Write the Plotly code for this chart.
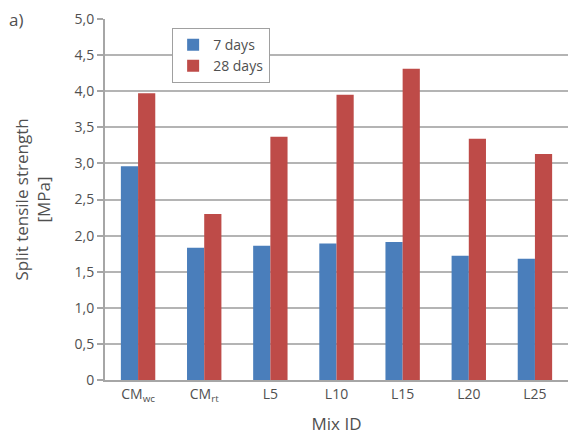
import plotly.graph_objects as go

categories = ["CM<sub>wc</sub>", "CM<sub>rt</sub>", "L5", "L10", "L15", "L20", "L25"]
days7 = [2.96, 1.83, 1.86, 1.89, 1.91, 1.72, 1.68]
days28 = [3.97, 2.30, 3.37, 3.95, 4.31, 3.34, 3.13]
ytick_vals = [0, 0.5, 1.0, 1.5, 2.0, 2.5, 3.0, 3.5, 4.0, 4.5, 5.0]
ytick_text = ["0", "0,5", "1,0", "1,5", "2,0", "2,5", "3,0", "3,5", "4,0", "4,5", "5,0"]

font_color = "#505050"
fig = go.Figure()
fig.add_trace(go.Bar(name="7 days", x=categories, y=days7, marker=dict(color="#4a7ebb", line=dict(width=0))))
fig.add_trace(go.Bar(name="28 days", x=categories, y=days28, marker=dict(color="#be4b48", line=dict(width=0))))

fig.update_layout(
    width=573, height=439,
    margin=dict(l=105, r=5, t=19, b=59),
    paper_bgcolor="white", plot_bgcolor="white",
    font=dict(family="Open Sans, sans-serif", color=font_color, size=13),
    barmode="group", bargap=0.48, bargroupgap=0,
    legend=dict(x=0.145, y=0.975, xanchor="left", yanchor="top",
                bgcolor="white", bordercolor="#a0a0a0", borderwidth=1,
                itemwidth=30,
                font=dict(size=14, color=font_color), tracegroupgap=2),
    xaxis=dict(showline=True, linecolor="#a6a6a6", linewidth=2, ticks="",
               tickfont=dict(size=14), title=dict(text="Mix ID", font=dict(size=17), standoff=14)),
    yaxis=dict(range=[0, 5.0], tickvals=ytick_vals, ticktext=ytick_text,
               showgrid=True, gridcolor="#b4b4b4", gridwidth=2,
               showline=True, linecolor="#a6a6a6", linewidth=2,
               ticks="outside", ticklen=6, tickcolor="#a6a6a6", tickwidth=2,
               zeroline=False, tickfont=dict(size=14),
               title=dict(text="Split tensile strength<br>[MPa]", font=dict(size=17), standoff=20)),
    annotations=[dict(text="a)", xref="paper", yref="paper", x=-0.2, y=1.0,
                      xanchor="center", yanchor="middle", showarrow=False,
                      font=dict(size=17, color=font_color), xshift=4)],
)
fig.write_html("out.html")
